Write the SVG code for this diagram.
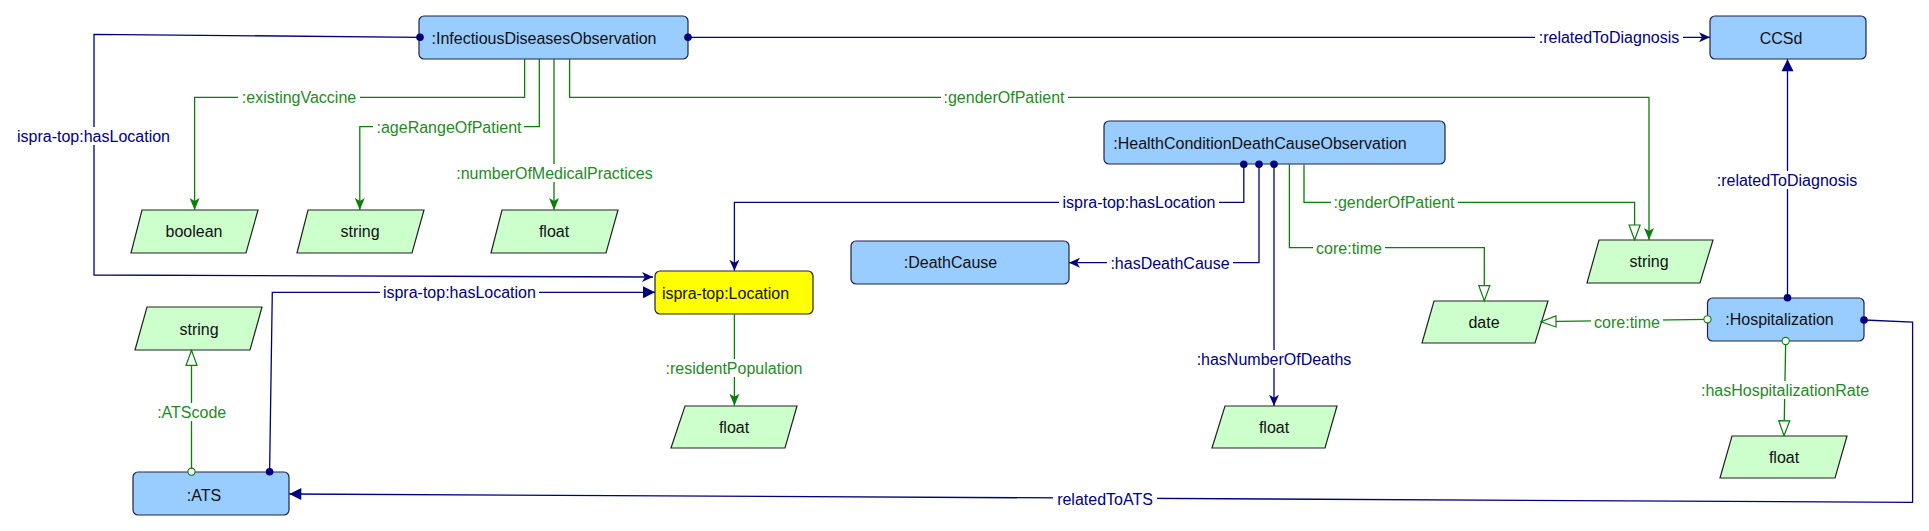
<svg xmlns="http://www.w3.org/2000/svg" width="1929" height="531" viewBox="0 0 1929 531">
<style>
.cls{fill:#99CCFF;stroke:#222244;stroke-width:1.2}
.loc{fill:#FFFF00;stroke:#222222;stroke-width:1.2}
.dt{fill:#CCFFCC;stroke:#222222;stroke-width:1.2}
.nt{font-family:"Liberation Sans",Arial,sans-serif;font-size:16px;fill:#111111;text-anchor:middle}
.nl{fill:none;stroke:#000080;stroke-width:1.3}
.gl{fill:none;stroke:#0a7d0a;stroke-width:1.3}
.lb{fill:#ffffff}
.nlt{font-family:"Liberation Sans",Arial,sans-serif;font-size:16px;fill:#000080;text-anchor:middle}
.glt{font-family:"Liberation Sans",Arial,sans-serif;font-size:16px;fill:#1f8a1f;text-anchor:middle}
</style>
<defs>
<marker id="nBarb" viewBox="-13 -6 14 12" refX="0" refY="0" markerWidth="14" markerHeight="12" markerUnits="userSpaceOnUse" orient="auto"><path d="M0,0 L-11,-5 L-8,0 L-11,5 Z" fill="#000080"/></marker>
<marker id="nTri" viewBox="-13 -7 14 14" refX="0" refY="0" markerWidth="14" markerHeight="14" markerUnits="userSpaceOnUse" orient="auto"><path d="M0,0 L-12,-6 L-12,6 Z" fill="#000080"/></marker>
<marker id="gBarb" viewBox="-13 -6 14 12" refX="0" refY="0" markerWidth="14" markerHeight="12" markerUnits="userSpaceOnUse" orient="auto"><path d="M0,0 L-12,-5 L-9,0 L-12,5 Z" fill="#0a7d0a"/></marker>
<marker id="gHollow" viewBox="-17 -7 18 14" refX="0" refY="0" markerWidth="18" markerHeight="14" markerUnits="userSpaceOnUse" orient="auto"><path d="M0,0 L-15,-5.5 L-15,5.5 Z" fill="#ffffff" stroke="#0a7d0a" stroke-width="1.2"/></marker>
<marker id="nDot" viewBox="-5 -5 10 10" refX="0" refY="0" markerWidth="10" markerHeight="10" markerUnits="userSpaceOnUse"><circle r="3.8" fill="#000080"/></marker>
<marker id="gCirc" viewBox="-5 -5 10 10" refX="0" refY="0" markerWidth="10" markerHeight="10" markerUnits="userSpaceOnUse"><circle r="3.6" fill="#ffffff" stroke="#0a7d0a" stroke-width="1.1"/></marker>
</defs>

<g id="InfectiousDiseasesObservation"><rect class="cls" x="419" y="16" width="269" height="43" rx="5"/><text class="nt" x="544" y="44">:InfectiousDiseasesObservation</text></g>
<g id="CCSd"><rect class="cls" x="1710" y="16" width="156" height="43" rx="5"/><text class="nt" x="1781" y="44">CCSd</text></g>
<g id="HealthConditionDeathCauseObservation"><rect class="cls" x="1104" y="121" width="341" height="43" rx="5"/><text class="nt" x="1260" y="149">:HealthConditionDeathCauseObservation</text></g>
<g id="DeathCause"><rect class="cls" x="851" y="241" width="218" height="43" rx="5"/><text class="nt" x="950.5" y="268">:DeathCause</text></g>
<g id="Location"><rect class="loc" x="655" y="271" width="158" height="43" rx="5"/><text class="nt" x="725.5" y="299">ispra-top:Location</text></g>
<g id="ATS"><rect class="cls" x="133" y="472" width="156" height="43" rx="5"/><text class="nt" x="204" y="501">:ATS</text></g>
<g id="Hospitalization"><rect class="cls" x="1707.5" y="298" width="156.5" height="43" rx="5"/><text class="nt" x="1779.5" y="325">:Hospitalization</text></g>

<g id="boolean"><polygon class="dt" points="142,210 258,210 246,253 131,253"/><text class="nt" x="194" y="237">boolean</text></g>
<g id="string1"><polygon class="dt" points="308,210 424,210 412,253 297,253"/><text class="nt" x="360" y="237">string</text></g>
<g id="float1"><polygon class="dt" points="502,210 618,210 606,253 491,253"/><text class="nt" x="554" y="237">float</text></g>
<g id="string2"><polygon class="dt" points="147,307 262,307 250,350 135,350"/><text class="nt" x="199" y="335">string</text></g>
<g id="float2"><polygon class="dt" points="685,406 797,406 785,448 671,448"/><text class="nt" x="734" y="433">float</text></g>
<g id="float3"><polygon class="dt" points="1225,406 1337,406 1325,448 1212,448"/><text class="nt" x="1274" y="433">float</text></g>
<g id="string3"><polygon class="dt" points="1599,240 1713,240 1700,283 1587,283"/><text class="nt" x="1649" y="267">string</text></g>
<g id="date"><polygon class="dt" points="1434,301 1548,301 1535,343 1422,343"/><text class="nt" x="1484" y="328">date</text></g>
<g id="float4"><polygon class="dt" points="1732,436 1847,436 1835,478 1720,478"/><text class="nt" x="1784" y="463">float</text></g>

<g id="connectors">
  <path class="nl" d="M420,37.3 L94,34.3 L94,275 L653,277" marker-start="url(#nDot)" marker-end="url(#nBarb)"/>
  <path class="nl" d="M688,37.3 L1710,37.3" marker-start="url(#nDot)" marker-end="url(#nBarb)"/>
  <path class="gl" d="M524.6,59 V97.3 H194.6 V210" marker-end="url(#gBarb)"/>
  <path class="gl" d="M539.3,59 V126.7 H359.8 V210" marker-end="url(#gBarb)"/>
  <path class="gl" d="M554,59 V210" marker-end="url(#gBarb)"/>
  <path class="gl" d="M569.6,59 V97.3 H1649 V240" marker-end="url(#gBarb)"/>
  <path class="nl" d="M1243.8,164.3 V202.3 H734.4 V270.7" marker-start="url(#nDot)" marker-end="url(#nBarb)"/>
  <path class="nl" d="M1259,164.3 V262.7 H1069" marker-start="url(#nDot)" marker-end="url(#nBarb)"/>
  <path class="nl" d="M1274,164.3 V405.7" marker-start="url(#nDot)" marker-end="url(#nBarb)"/>
  <path class="gl" d="M1304,164.3 V202.3 H1634.6 V240" marker-end="url(#gHollow)"/>
  <path class="gl" d="M1289.4,164.3 V247.7 H1484.3 V300.7" marker-end="url(#gHollow)"/>
  <path class="nl" d="M1787.5,297.7 V59.3" marker-start="url(#nDot)" marker-end="url(#nTri)"/>
  <path class="gl" d="M1707.5,319.3 L1541,321.7" marker-start="url(#gCirc)" marker-end="url(#gHollow)"/>
  <path class="gl" d="M1785.7,341 L1784,435.7" marker-start="url(#gCirc)" marker-end="url(#gHollow)"/>
  <path class="nl" d="M1864,320 L1912.6,322 V502.3 L289.3,494" marker-start="url(#nDot)" marker-end="url(#nTri)"/>
  <path class="nl" d="M269.6,471.7 L272.3,292.3 H655" marker-start="url(#nDot)" marker-end="url(#nTri)"/>
  <path class="gl" d="M191.5,471.7 V350.3" marker-start="url(#gCirc)" marker-end="url(#gHollow)"/>
  <path class="gl" d="M734.4,314.3 V405.7" marker-end="url(#gBarb)"/>

  <rect class="lb" x="14" y="127" width="159" height="18"/>
  <text class="nlt" x="93.5" y="142">ispra-top:hasLocation</text>
  <rect class="lb" x="1535" y="28" width="148" height="18"/>
  <text class="nlt" x="1609" y="43">:relatedToDiagnosis</text>
  <rect class="lb" x="238" y="88" width="122" height="18"/>
  <text class="glt" x="299" y="103">:existingVaccine</text>
  <rect class="lb" x="373" y="118" width="151" height="18"/>
  <text class="glt" x="449" y="133">:ageRangeOfPatient</text>
  <rect class="lb" x="453" y="164" width="203" height="18"/>
  <text class="glt" x="554.5" y="179">:numberOfMedicalPractices</text>
  <rect class="lb" x="941" y="88" width="127" height="18"/>
  <text class="glt" x="1004" y="103">:genderOfPatient</text>
  <rect class="lb" x="1059" y="193" width="160" height="18"/>
  <text class="nlt" x="1139" y="208">ispra-top:hasLocation</text>
  <rect class="lb" x="1107" y="254" width="126" height="18"/>
  <text class="nlt" x="1170" y="269">:hasDeathCause</text>
  <rect class="lb" x="1196" y="350" width="157" height="18"/>
  <text class="nlt" x="1274" y="365">:hasNumberOfDeaths</text>
  <rect class="lb" x="1331" y="193" width="127" height="18"/>
  <text class="glt" x="1394" y="208">:genderOfPatient</text>
  <rect class="lb" x="1313" y="239" width="72" height="18"/>
  <text class="glt" x="1349" y="254">core:time</text>
  <rect class="lb" x="1713" y="171" width="148" height="18"/>
  <text class="nlt" x="1787" y="186">:relatedToDiagnosis</text>
  <rect class="lb" x="1591" y="313" width="72" height="18"/>
  <text class="glt" x="1627" y="328">core:time</text>
  <rect class="lb" x="1700" y="381" width="170" height="18"/>
  <text class="glt" x="1785" y="396">:hasHospitalizationRate</text>
  <rect class="lb" x="1053" y="490" width="104" height="18"/>
  <text class="nlt" x="1105" y="505">relatedToATS</text>
  <rect class="lb" x="380" y="283" width="159" height="18"/>
  <text class="nlt" x="459.4" y="298">ispra-top:hasLocation</text>
  <rect class="lb" x="155" y="403" width="74" height="18"/>
  <text class="glt" x="191.7" y="418">:ATScode</text>
  <rect class="lb" x="664" y="359" width="141" height="18"/>
  <text class="glt" x="734" y="374">:residentPopulation</text>
</g>
</svg>
